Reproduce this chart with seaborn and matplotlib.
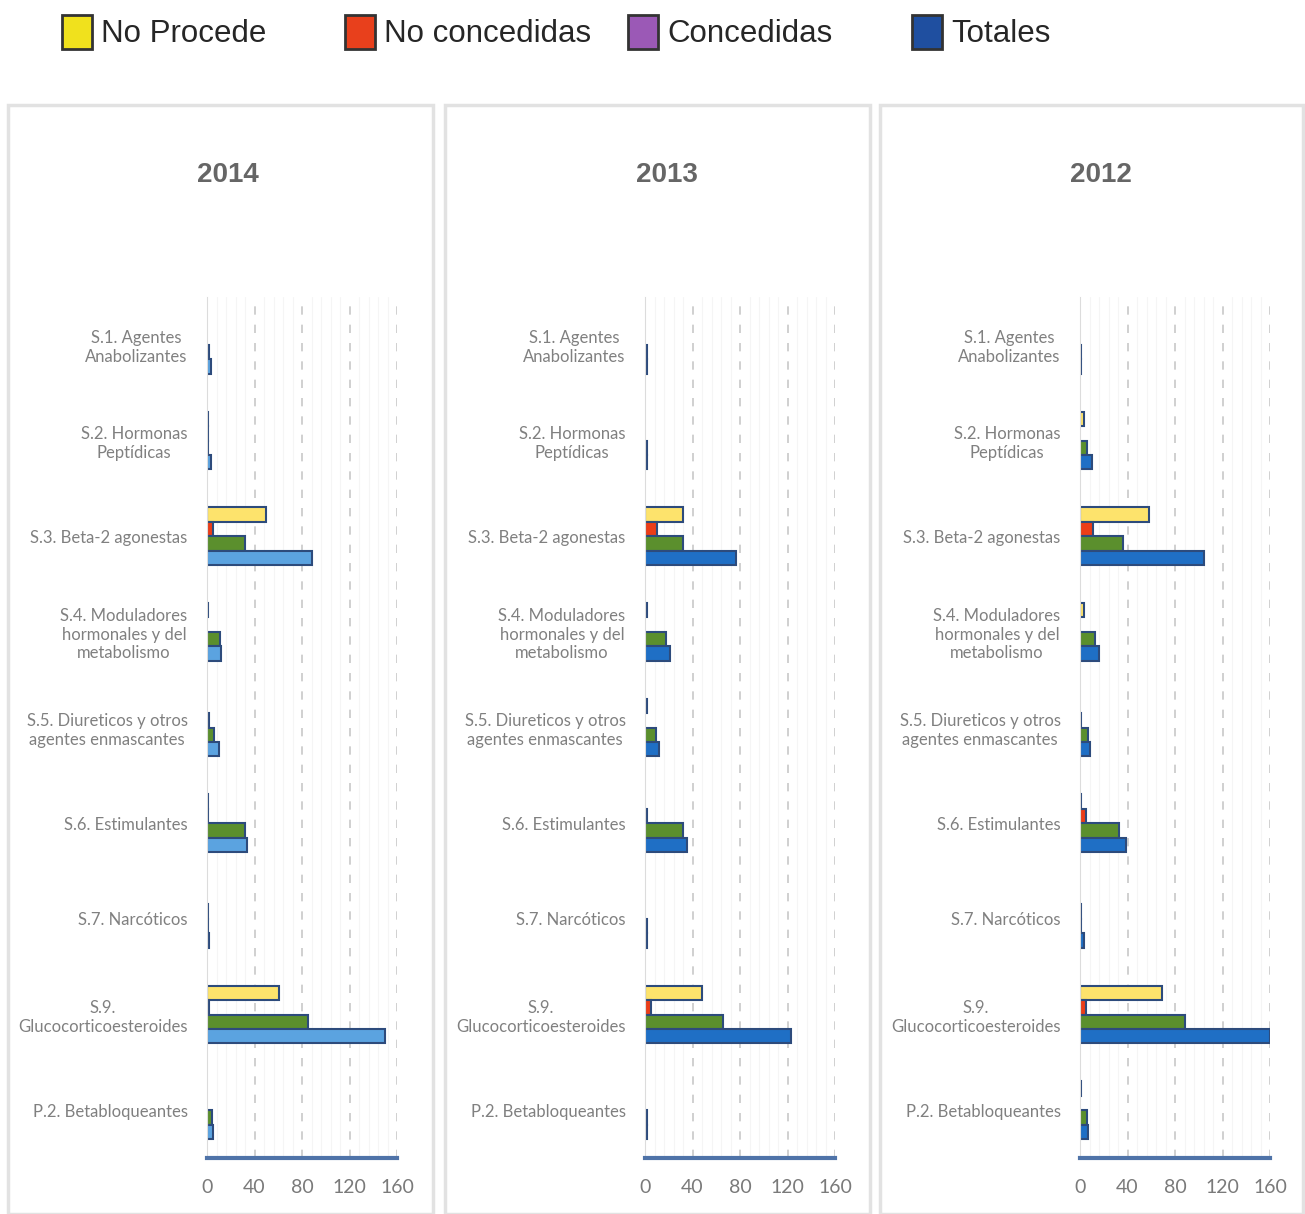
import pandas as pd
import matplotlib.pyplot as plt
import seaborn as sns
from matplotlib.patches import Patch, Rectangle
from matplotlib.ticker import MultipleLocator

# Categories and series
categorias = ["S.1. Agentes\nAnabolizantes", "S.2. Hormonas\nPeptídicas", "S.3. Beta-2 agonestas",
              "S.4. Moduladores\nhormonales y del\nmetabolismo",
              "S.5. Diureticos y otros\nagentes enmascantes", "S.6. Estimulantes",
              "S.7. Narcóticos", "S.9.\nGlucocorticoesteroides", "P.2. Betabloqueantes"]
series = ["No Procede", "No concedidas", "Concedidas", "Totales"]
years = ["2014", "2013", "2012"]

# Values (one list per series and year)
no_procede_2014 = [0, 1, 50, 1, 0, 1, 0, 61, 0]
no_concedidas_2014 = [0, 1, 5, 0, 2, 1, 1, 2, 0]
concedidas_2014 = [2, 1, 32, 11, 6, 32, 1, 85, 4]
totales_2014 = [3, 3, 88, 12, 10, 34, 2, 150, 5]

no_procede_2013 = [0, 0, 32, 2, 2, 0, 0, 48, 0]
no_concedidas_2013 = [0, 0, 10, 0, 0, 2, 0, 5, 0]
concedidas_2013 = [2, 2, 32, 18, 9, 32, 2, 66, 2]
totales_2013 = [2, 2, 77, 21, 12, 35, 2, 123, 2]

no_procede_2012 = [0, 3, 58, 3, 0, 1, 0, 69, 1]
no_concedidas_2012 = [0, 0, 11, 0, 1, 5, 1, 5, 0]
concedidas_2012 = [1, 6, 36, 13, 7, 33, 1, 88, 6]
totales_2012 = [1, 10, 104, 16, 8, 39, 3, 160, 7]

data_by_year = {
    "2014": [no_procede_2014, no_concedidas_2014, concedidas_2014, totales_2014],
    "2013": [no_procede_2013, no_concedidas_2013, concedidas_2013, totales_2013],
    "2012": [no_procede_2012, no_concedidas_2012, concedidas_2012, totales_2012],
}

bar_colors = {"2014": ["#fde36c", "#ec3d17", "#5b8f2d", "#5ba3e0"],
              "2013": ["#fde36c", "#ec3d17", "#5b8f2d", "#1f6fc5"],
              "2012": ["#fde36c", "#ec3d17", "#5b8f2d", "#1f6fc5"]}
legend_colors = ["#f0e11d", "#e8401c", "#9b59b6", "#1f4fa0"]

sns.set_style("white")
plt.rcParams["font.family"] = ["Lato", "DejaVu Sans"]

W, H = 1305, 1214
fig = plt.figure(figsize=(W / 100, H / 100), dpi=100)

# panel frames
for x0, x1 in [(8, 433), (445, 870), (880, 1303)]:
    fig.patches.append(Rectangle((x0 / W, 0), (x1 - x0) / W, (H - 105) / H,
                                 transform=fig.transFigure, fill=False,
                                 edgecolor="#e2e2e2", linewidth=2.5))

axes_left = [207, 645, 1080]
title_x = [228, 667, 1101]
for year, left, tx in zip(years, axes_left, title_x):
    ax = fig.add_axes([left / W, 56 / H, 190 / W, 861 / H])
    rows = []
    for serie, values in zip(series, data_by_year[year]):
        for cat, v in zip(categorias, values):
            rows.append({"cat": cat, "serie": serie, "valor": v})
    df = pd.DataFrame(rows)
    sns.barplot(data=df, y="cat", x="valor", hue="serie", order=categorias,
                hue_order=series, palette=bar_colors[year], orient="h",
                width=0.6, edgecolor="#2d4b7c", linewidth=1.5, legend=False,
                ax=ax, errorbar=None, saturation=1)
    for p in ax.patches:
        if p.get_width() == 0:
            p.set_visible(False)
    ax.set_xlim(0, 160)
    ax.set_ylim(len(categorias) - 0.5, -0.5)
    ax.xaxis.set_major_locator(MultipleLocator(40))
    ax.xaxis.set_minor_locator(MultipleLocator(8))
    ax.grid(axis="x", which="minor", color="#f5f5f5", linewidth=0.8)
    ax.grid(axis="x", which="major", color="#c8c8c8", linestyle=(0, (5, 6)), linewidth=1.2)
    ax.set_axisbelow(True)
    ax.set_xlabel("")
    ax.set_ylabel("")
    for s in ["top", "right"]:
        ax.spines[s].set_visible(False)
    ax.spines["left"].set_color("#dcdcdc")
    ax.spines["bottom"].set_color("#4f73a8")
    ax.spines["bottom"].set_linewidth(3)
    ax.tick_params(axis="x", length=0, labelsize=14, labelcolor="#7a7a7a", pad=15)
    ax.tick_params(axis="y", which="major", length=0, labelsize=12, labelcolor="#808080", pad=14)
    ax.set_yticks(range(len(categorias)), categorias)
    for lab in ax.get_yticklabels():
        lab.set_multialignment("center")
    ax.set_yticks([k + 0.5 for k in range(-1, len(categorias))], minor=True)
    ax.tick_params(axis="y", which="minor", length=5, color="#dcdcdc", direction="out")
    fig.text(tx / W, 1 - 175 / H, year, ha="center", va="center", fontsize=20,
             fontweight="bold", color="#666666", family="Liberation Sans")

# legend across the top
legend_x = [62, 345, 628, 912]
for serie, col, lx in zip(series, legend_colors, legend_x):
    h = Patch(facecolor=col, edgecolor="#333333", linewidth=2)
    fig.legend(handles=[h], labels=[serie], loc="center left",
               bbox_to_anchor=(lx / W, 1 - 32 / H), frameon=False,
               prop={"family": "Liberation Sans", "size": 22.5},
               handlelength=0.95, handleheight=1.3, handletextpad=0.3,
               borderpad=0, borderaxespad=0)

fig.savefig("out.png", dpi=100, facecolor="white")
